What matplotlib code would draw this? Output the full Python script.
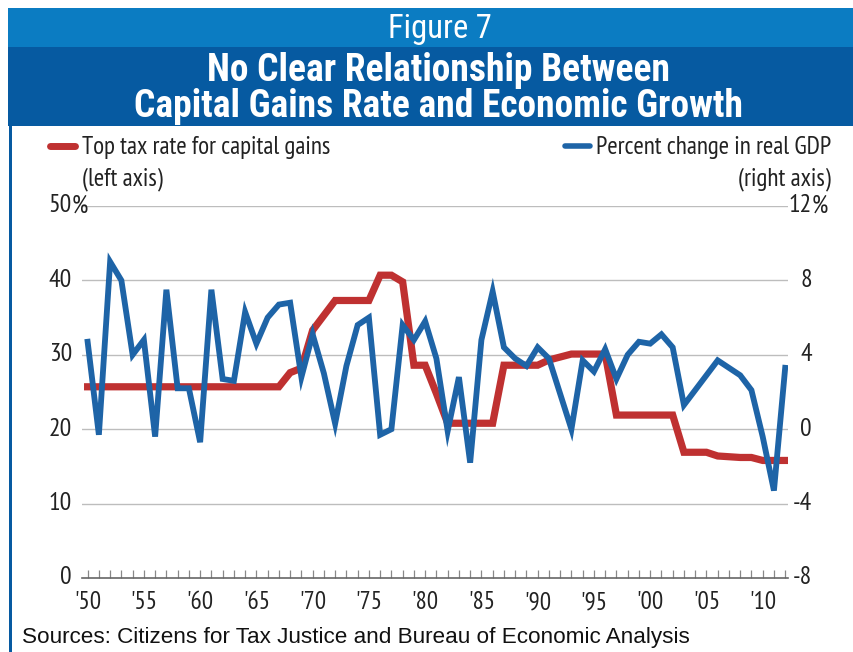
import matplotlib
matplotlib.use("Agg")
import matplotlib.pyplot as plt
from matplotlib.patches import Rectangle
from matplotlib.lines import Line2D
import matplotlib.transforms as mtransforms

# ---------------- data ----------------
years = list(range(1950, 2013))
tax_rate = [25.7, 25.7, 25.7, 25.7, 25.7, 25.7, 25.7, 25.7, 25.7, 25.7,
            25.7, 25.7, 25.7, 25.7, 25.7, 25.7, 25.7, 25.7, 27.6, 28.2,
            33.3, 35.3, 37.3, 37.3, 37.3, 37.3, 40.7, 40.7, 39.8, 28.6,
            28.6, 24.8, 20.8, 20.8, 20.8, 20.8, 20.8, 28.6, 28.6, 28.6,
            28.6, 29.3, 29.7, 30.1, 30.1, 30.1, 30.1, 21.9, 21.9, 21.9,
            21.9, 21.9, 21.9, 16.9, 16.9, 16.9, 16.4, 16.3, 16.2, 16.2,
            15.8, 15.8, 15.8]
gdp_change = [4.7, -0.3, 9.0, 8.0, 4.0, 4.8, -0.4, 7.5, 2.2, 2.2,
              -0.7, 7.5, 2.7, 2.6, 6.3, 4.6, 6.0, 6.7, 6.8, 2.8,
              5.1, 3.0, 0.3, 3.4, 5.6, 6.0, -0.3, 0.0, 5.6, 4.8,
              5.8, 3.8, -0.1, 2.8, -1.8, 4.8, 7.4, 4.4, 3.8, 3.4,
              4.4, 3.8, 1.9, 0.0, 3.7, 3.1, 4.3, 2.7, 4.0, 4.7,
              4.6, 5.1, 4.4, 1.3, 2.1, 2.9, 3.7, 3.3, 2.9, 2.1,
              -0.4, -3.3, 3.3]
left_ticks = [0, 10, 20, 30, 40, 50]
left_labels = ["0", "10", "20", "30", "40", "50"]
right_ticks = [-8, -4, 0, 4, 8, 12]
right_labels = ["-8", "-4", "0", "4", "8", "12"]
label_years = [1950, 1955, 1960, 1965, 1970, 1975, 1980, 1985, 1990, 1995, 2000, 2005, 2010]
year_labels = ["'50", "'55", "'60", "'65", "'70", "'75", "'80", "'85", "'90", "'95", "'00", "'05", "'10"]

title_top = "Figure 7"
title_line1 = "No Clear Relationship Between"
title_line2 = "Capital Gains Rate and Economic Growth"
legend_red = ["Top tax rate for capital gains", "(left axis)"]
legend_blue = ["Percent change in real GDP", "(right axis)"]
source = "Sources: Citizens for Tax Justice and Bureau of Economic Analysis"

# ---------------- style ----------------
W, H = 854, 652
RED = "#BF3131"
BLUE = "#1E64A7"
LIGHT_BANNER = "#0B7CC2"
DARK_BANNER = "#065AA1"
GRID = "#BDBDBD"
TXT = "#222222"
NARROW = ["PT Sans Narrow", "Roboto Condensed", "IBM Plex Sans Condensed", "DejaVu Sans"]
TITLE = ["Roboto Condensed", "Barlow Semi Condensed", "IBM Plex Sans Condensed", "DejaVu Sans"]

fig = plt.figure(figsize=(W / 100, H / 100), dpi=100)
fig.patch.set_facecolor("white")

def fx(x):
    return x / W

def fy(y):
    return 1 - y / H

# banner
fig.patches.append(Rectangle((fx(8), fy(47)), fx(W - 8), 39 / H, transform=fig.transFigure,
                             facecolor=LIGHT_BANNER, edgecolor="none", zorder=0))
fig.patches.append(Rectangle((fx(8), fy(126)), fx(W - 8), 79 / H, transform=fig.transFigure,
                             facecolor=DARK_BANNER, edgecolor="none", zorder=0))
# left border
fig.patches.append(Rectangle((fx(9), 0), 3.5 / W, fy(126), transform=fig.transFigure,
                             facecolor=DARK_BANNER, edgecolor="none", zorder=0))

fig.text(fx(440), fy(38), title_top, color="white", fontsize=23.5, family=TITLE,
         ha="center", va="baseline")
fig.text(fx(439), fy(81), title_line1, color="white", fontsize=27, family=TITLE,
         fontweight="bold", ha="center", va="baseline")
fig.text(fx(439), fy(117), title_line2, color="white", fontsize=27, family=TITLE,
         fontweight="bold", ha="center", va="baseline")

# axes
ax_left, ax_right, ax_bottom, ax_top = 82, 788, 578, 206
ax = fig.add_axes([fx(ax_left), fy(ax_bottom), (ax_right - ax_left) / W, (ax_bottom - ax_top) / H])
ax2 = ax.twinx()

ax.set_xlim(1949.5, 2012.25)
ax.set_ylim(0, 50)
ax2.set_ylim(-8, 12)

for a in (ax, ax2):
    for s in ("top", "left", "right"):
        a.spines[s].set_visible(False)
    a.set_facecolor("none")
ax2.spines["bottom"].set_visible(False)
ax.spines["bottom"].set_color("#666666")
ax.spines["bottom"].set_linewidth(1.2)

# gridlines
for t in left_ticks[1:]:
    ax.axhline(t, color=GRID, lw=1.0, zorder=1)

ax.plot(years, tax_rate, color=RED, lw=5.2, solid_joinstyle="miter", zorder=3)
ax2.plot(years, gdp_change, color=BLUE, lw=4.2, solid_joinstyle="miter", zorder=4)

# x ticks
ax.set_xticks(years)
ax.set_xticklabels([""] * len(years))
ax.tick_params(axis="x", direction="in", length=6, width=0.9, color="#888888", pad=6)
ax.set_yticks([])
ax2.set_yticks([])

xtr = mtransforms.blended_transform_factory(ax.transData, fig.transFigure)
for yr, lab in zip(label_years, year_labels):
    ax.text(yr, fy(609), lab, transform=xtr, ha="center", va="baseline", fontsize=18,
            family=NARROW, color=TXT)

# y labels
ltr = mtransforms.blended_transform_factory(fig.transFigure, ax.transData)
for t, lab in zip(left_ticks, left_labels):
    ax.text(fx(72), t, lab, transform=ltr, ha="right", va="center", fontsize=18.5,
            family=NARROW, color=TXT)
    if t == left_ticks[-1]:
        ax.text(fx(72), t, "%", transform=ltr, ha="left", va="center", fontsize=18.5,
                family=NARROW, color=TXT)
rtr = mtransforms.blended_transform_factory(fig.transFigure, ax2.transData)
for t, lab in zip(right_ticks, right_labels):
    ax2.text(fx(812), t, lab, transform=rtr, ha="right", va="center", fontsize=18.5,
             family=NARROW, color=TXT)
    if t == right_ticks[-1]:
        ax2.text(fx(812), t, "%", transform=rtr, ha="left", va="center", fontsize=18.5,
                 family=NARROW, color=TXT)

# legend
fig.add_artist(Line2D([fx(50), fx(75)], [fy(146), fy(146)], color=RED, lw=5,
                      solid_capstyle="round", transform=fig.transFigure))
fig.text(fx(82), fy(154), legend_red[0], ha="left", va="baseline", fontsize=18, family=NARROW, color=TXT)
fig.text(fx(82), fy(185), legend_red[1], ha="left", va="baseline", fontsize=18, family=NARROW, color=TXT)
fig.add_artist(Line2D([fx(565), fx(590)], [fy(146), fy(146)], color=BLUE, lw=4,
                      solid_capstyle="round", transform=fig.transFigure))
fig.text(fx(831), fy(154), legend_blue[0], ha="right", va="baseline", fontsize=18, family=NARROW, color=TXT)
fig.text(fx(831), fy(185), legend_blue[1], ha="right", va="baseline", fontsize=18, family=NARROW, color=TXT)

fig.text(fx(22), fy(643), source, ha="left", va="baseline", fontsize=16.2,
         family=["Liberation Sans", "DejaVu Sans"], color="#111111")

fig.savefig("out.png", dpi=100)
